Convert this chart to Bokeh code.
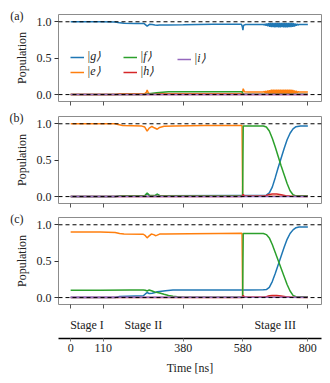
from bokeh.plotting import figure
from bokeh.models import Range1d, FixedTicker, Span, Legend, LegendItem, PrintfTickFormatter, LinearAxis
from bokeh.layouts import column
from bokeh.embed import file_html
from bokeh.resources import INLINE
from bokeh.core.properties import value

# ---------------- data ----------------
tick_times = [0, 110, 380, 580, 800]
stage_names = ["Stage I", "Stage II", "Stage III"]
stage_centers = [55, 245, 690]
state_labels = ["|g⟩", "|e⟩", "|f⟩", "|h⟩", "|i⟩"]
panel_tags = ["(a)", "(b)", "(c)"]

osc_t = [650, 653, 656, 659, 662, 665, 668, 671, 674, 677, 680, 683, 686, 689, 692, 695, 698, 701, 704, 707,
         710, 713, 716, 719, 722, 725, 728, 731, 734, 737, 740, 743, 746, 749, 752, 755, 758, 761, 764, 767, 770]
osc_g = [0.963, 0.955, 0.97, 0.948, 0.975, 0.94, 0.982, 0.93, 0.985, 0.927, 0.985, 0.926, 0.986, 0.925, 0.985,
         0.926, 0.986, 0.924, 0.985, 0.925, 0.986, 0.926, 0.985, 0.925, 0.986, 0.924, 0.985, 0.925, 0.984, 0.927,
         0.985, 0.926, 0.983, 0.93, 0.98, 0.935, 0.975, 0.945, 0.97, 0.955, 0.963]
osc_e = [0.035, 0.045, 0.025, 0.05, 0.02, 0.055, 0.014, 0.062, 0.01, 0.066, 0.01, 0.067, 0.009, 0.068, 0.01,
         0.067, 0.009, 0.068, 0.01, 0.067, 0.009, 0.067, 0.01, 0.068, 0.009, 0.068, 0.01, 0.067, 0.011, 0.066,
         0.01, 0.066, 0.012, 0.063, 0.015, 0.058, 0.02, 0.05, 0.026, 0.04, 0.035]

# panel (a)
a_g_t = [0, 100, 150, 165, 180, 220, 248, 258, 266, 275, 284, 292, 300, 330, 380, 430, 480, 530, 576, 579, 581, 583, 590, 620, 645] + osc_t + [780, 800]
a_g_v = [1.0, 1.0, 0.997, 0.985, 0.98, 0.978, 0.975, 0.94, 0.965, 0.962, 0.955, 0.952, 0.955, 0.955, 0.958, 0.962, 0.965, 0.967, 0.967, 0.93, 0.885, 0.95, 0.963, 0.963, 0.963] + osc_g + [0.963, 0.963]
a_e_t = [0, 150, 165, 250, 255, 258, 262, 270, 578, 580, 582, 586, 600, 645] + osc_t + [780, 800]
a_e_v = [0.0, 0.0, 0.012, 0.015, 0.03, 0.062, 0.02, 0.01, 0.01, 0.04, 0.08, 0.04, 0.037, 0.037] + osc_e + [0.037, 0.037]
a_f_t = [0, 250, 258, 270, 290, 310, 330, 350, 578, 580, 584, 800]
a_f_v = [0.0, 0.0, 0.008, 0.015, 0.025, 0.032, 0.038, 0.04, 0.04, 0.02, 0.005, 0.005]
a_h_t = [0, 800]
a_h_v = [0.001, 0.001]
a_i_t = [0, 800]
a_i_v = [0.002, 0.002]

# panel (b)
b_g_t = [0, 150, 170, 250, 258, 266, 285, 292, 300, 578, 600, 660, 670, 680, 690, 700, 710, 720, 730, 740, 750, 760, 775, 800]
b_g_v = [0.0, 0.0, 0.008, 0.01, 0.04, 0.012, 0.012, 0.03, 0.012, 0.015, 0.015, 0.02, 0.05, 0.13, 0.26, 0.40, 0.53, 0.66, 0.78, 0.87, 0.93, 0.96, 0.97, 0.97]
b_e_t = [0, 150, 160, 175, 240, 250, 258, 265, 274, 282, 292, 300, 315, 350, 450, 578, 580, 600, 800]
b_e_v = [1.0, 1.0, 0.99, 0.975, 0.968, 0.955, 0.9, 0.94, 0.963, 0.945, 0.925, 0.95, 0.965, 0.97, 0.975, 0.975, 0.005, 0.005, 0.005]
b_f_t = [0, 150, 170, 250, 258, 266, 285, 292, 300, 578, 580, 582, 650, 660, 670, 680, 690, 700, 710, 720, 730, 740, 750, 760, 800]
b_f_v = [0.0, 0.0, 0.01, 0.012, 0.05, 0.015, 0.015, 0.035, 0.012, 0.012, 0.012, 0.97, 0.97, 0.955, 0.9, 0.8, 0.68, 0.55, 0.42, 0.3, 0.18, 0.08, 0.025, 0.01, 0.01]
b_h_t = [0, 578, 580, 582, 586, 650, 660, 670, 680, 695, 710, 725, 740, 800]
b_h_v = [0.0, 0.0, 0.02, 0.03, 0.005, 0.005, 0.015, 0.03, 0.035, 0.035, 0.025, 0.012, 0.004, 0.0]
b_i_t = [0, 800]
b_i_v = [0.002, 0.002]

# panel (c)
c_g_t = [0, 150, 165, 245, 252, 258, 265, 275, 285, 292, 300, 320, 345, 400, 578, 600, 650, 660, 670, 680, 690, 700, 710, 720, 730, 740, 750, 760, 770, 800]
c_g_v = [0.0, 0.0, 0.015, 0.025, 0.05, 0.07, 0.055, 0.06, 0.07, 0.08, 0.085, 0.095, 0.105, 0.105, 0.105, 0.105, 0.108, 0.11, 0.14, 0.22, 0.33, 0.45, 0.57, 0.69, 0.8, 0.88, 0.93, 0.96, 0.97, 0.97]
c_e_t = [0, 100, 150, 165, 180, 245, 252, 258, 264, 272, 280, 286, 292, 300, 320, 400, 500, 578, 580, 600, 800]
c_e_v = [0.9, 0.9, 0.895, 0.88, 0.872, 0.87, 0.85, 0.82, 0.845, 0.872, 0.865, 0.85, 0.858, 0.872, 0.875, 0.878, 0.88, 0.882, 0.005, 0.005, 0.005]
c_f_t = [0, 100, 200, 245, 252, 258, 265, 275, 285, 292, 300, 315, 330, 345, 360, 380, 578, 580, 582, 650, 660, 670, 680, 690, 700, 710, 720, 730, 740, 750, 760, 800]
c_f_v = [0.1, 0.1, 0.105, 0.105, 0.1, 0.09, 0.105, 0.09, 0.075, 0.07, 0.062, 0.045, 0.03, 0.018, 0.01, 0.005, 0.005, 0.005, 0.88, 0.88, 0.865, 0.82, 0.73, 0.62, 0.51, 0.4, 0.29, 0.18, 0.09, 0.03, 0.012, 0.012]
c_h_t = [0, 578, 580, 582, 586, 650, 660, 670, 680, 695, 710, 725, 740, 800]
c_h_v = [0.0, 0.0, 0.015, 0.03, 0.005, 0.005, 0.012, 0.025, 0.03, 0.03, 0.022, 0.01, 0.004, 0.0]
c_i_t = [0, 800]
c_i_v = [0.003, 0.003]

# ---------------- style ----------------
FONT = "Liberation Serif"
FS = "12px"
COLORS = ["#1f77b4", "#ff7f0e", "#2ca02c", "#d62728", "#9467bd"]
x_range = Range1d(-41, 846)
FRAME_W = 263
BL = 58
TAG_Y = 1.085


def make_panel(tag, series, bt, bb, legend=False):
    p = figure(width=BL + FRAME_W + 2, height=bt + 87 + bb, x_range=x_range, y_range=Range1d(-0.095, 1.1),
               output_backend="svg", toolbar_location=None,
               min_border_left=BL, min_border_right=2, min_border_top=bt, min_border_bottom=bb)
    p.grid.visible = False
    p.outline_line_color = "#8c8c8c"
    p.outline_line_width = 1

    rs = []
    for (t, v), col in zip(series, COLORS):
        rs.append(p.line(t, v, line_color=col, line_width=1.5))

    for loc in (0.0, 1.0):
        p.add_layout(Span(location=loc, dimension="width", line_color="black",
                          line_width=1, line_dash="4 3"))

    xa = p.xaxis[0]
    xa.ticker = FixedTicker(ticks=tick_times)
    xa.axis_line_color = None
    xa.major_tick_out = 4
    xa.major_tick_in = 0
    xa.minor_tick_line_color = None
    xa.major_tick_line_color = "#555555"
    xa.major_label_overrides = {t: "" for t in tick_times}
    xa.major_label_text_font_size = "0px"
    xa.major_label_standoff = 0

    ya = p.yaxis[0]
    ya.ticker = FixedTicker(ticks=[0.0, 0.5, 1.0])
    ya.formatter = PrintfTickFormatter(format="%.1f")
    ya.axis_line_color = None
    ya.major_tick_out = 4
    ya.major_tick_in = 0
    ya.minor_tick_line_color = None
    ya.major_tick_line_color = "#333333"
    ya.major_label_standoff = 3
    ya.major_label_text_font = FONT
    ya.major_label_text_font_size = FS
    ya.major_label_text_color = "#222222"
    ya.axis_label = "Population"
    ya.axis_label_text_font = FONT
    ya.axis_label_text_font_size = FS
    ya.axis_label_text_font_style = "normal"
    ya.axis_label_text_color = "#222222"
    ya.axis_label_standoff = 5

    # panel tag as the only tick label of an outer, line-less left axis
    tag_axis = LinearAxis(ticker=FixedTicker(ticks=[TAG_Y]), major_label_overrides={TAG_Y: tag},
                          axis_line_color=None, major_tick_line_color=None, minor_tick_line_color=None,
                          major_tick_out=0, major_tick_in=0, major_label_standoff=-12,
                          major_label_text_font=FONT, major_label_text_font_size=FS,
                          major_label_text_color="#222222")
    p.add_layout(tag_axis, "left")

    if legend:
        groups = [([0, 1], (12, 22)), ([2, 3], (65, 22)), ([4], (119, 35))]
        for idxs, loc in groups:
            lg = Legend(items=[LegendItem(label=state_labels[k], renderers=[rs[k]]) for k in idxs],
                        location=loc, padding=0, margin=0, spacing=0,
                        glyph_width=14, glyph_height=12, label_height=12, label_standoff=3,
                        label_text_font=FONT, label_text_font_size=FS, label_text_font_style="italic",
                        label_text_color="#222222",
                        border_line_color=None, background_fill_alpha=0)
            p.add_layout(lg)
    return p


pa = make_panel(panel_tags[0], [(a_g_t, a_g_v), (a_e_t, a_e_v), (a_f_t, a_f_v), (a_h_t, a_h_v), (a_i_t, a_i_v)], 14, 8, legend=True)
pb = make_panel(panel_tags[1], [(b_g_t, b_g_v), (b_e_t, b_e_v), (b_f_t, b_f_v), (b_h_t, b_h_v), (b_i_t, b_i_v)], 7, 7)
pc = make_panel(panel_tags[2], [(c_g_t, c_g_v), (c_e_t, c_e_v), (c_f_t, c_f_v), (c_h_t, c_h_v), (c_i_t, c_i_v)], 7, 6)

pd_ = figure(width=BL + FRAME_W + 2, height=72, x_range=x_range, y_range=Range1d(0, 1),
             output_backend="svg", toolbar_location=None, y_axis_location=None,
             min_border_left=BL, min_border_right=2, min_border_top=0, min_border_bottom=44)
pd_.grid.visible = False
pd_.outline_line_color = None
pd_.text(x=stage_centers, y=[0.5] * len(stage_centers), text=stage_names,
         text_align="center", text_baseline="middle",
         text_font=value(FONT), text_font_size=FS, text_color="#222222")
xb = pd_.xaxis[0]
xb.ticker = FixedTicker(ticks=tick_times)
xb.axis_line_color = "black"
xb.axis_line_width = 1.5
xb.major_tick_out = 3
xb.major_tick_in = 0
xb.major_tick_line_color = "#777777"
xb.minor_tick_line_color = None
xb.major_label_standoff = 2
xb.major_label_text_font = FONT
xb.major_label_text_font_size = FS
xb.major_label_text_color = "#222222"
xb.axis_label = "Time [ns]"
xb.axis_label_text_font = FONT
xb.axis_label_text_font_size = FS
xb.axis_label_text_font_style = "normal"
xb.axis_label_text_color = "#222222"
xb.axis_label_standoff = 6

layout = column(pa, pb, pc, pd_, spacing=0)
open("out.html", "w").write(file_html(layout, INLINE))
